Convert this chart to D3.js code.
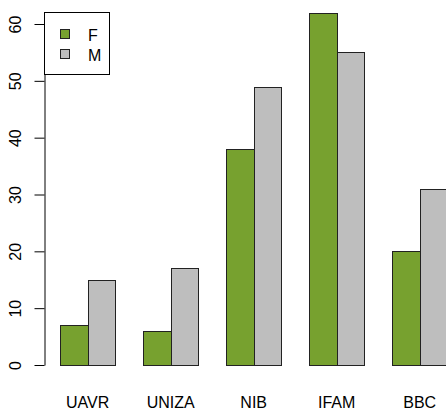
<!DOCTYPE html>
<html lang="en">
<head>
    <meta charset="UTF-8">
    <title>Barplot F / M</title>
    <script src="https://d3js.org/d3.v7.min.js"></script>
    <style>
        body { margin: 0; background: #fff; }
        text { font-family: "Liberation Sans", Arial, sans-serif; font-size: 16px; fill: #000; }
        .axis path, .axis line { stroke: #000; stroke-width: 1px; }
        .bar { stroke: #222; stroke-width: 1px; }
    </style>
</head>
<body>
    <svg width="446" height="410"></svg>
    <script>
        // data
        const categories = ["UAVR", "UNIZA", "NIB", "IFAM", "BBC"];
        const series = ["F", "M"];
        const valuesF = [7, 6, 38, 62, 20];
        const valuesM = [15, 17, 49, 55, 31];
        const yTicks = [0, 10, 20, 30, 40, 50, 60];
        const colors = ["#77a12f", "#bebebe"];

        const svg = d3.select("svg");

        // R barplot(beside=TRUE) user coords: group i, bar j at 1 + 3i + j, width 1
        const x = d3.scaleLinear()
            .domain([0.44, 15.56])
            .range([44.5, 462.9]);

        const y = d3.scaleLinear()
            .domain([0, 60])
            .range([365, 24]);

        const values = [valuesF, valuesM];
        const bars = [];
        categories.forEach((c, i) => {
            series.forEach((s, j) => {
                bars.push({ cat: c, ser: j, pos: 1 + 3 * i + j, v: values[j][i] });
            });
        });

        svg.append("g")
            .selectAll("rect")
            .data(bars)
            .enter().append("rect")
            .attr("class", "bar")
            .attr("x", d => Math.round(x(d.pos)) + 0.5)
            .attr("width", d => Math.round(x(d.pos + 1)) - Math.round(x(d.pos)))
            .attr("y", d => Math.round(y(d.v)) + 0.5)
            .attr("height", d => Math.round(y(0)) - Math.round(y(d.v)))
            .attr("fill", d => colors[d.ser]);

        // y axis
        const yAxis = svg.append("g")
            .attr("class", "axis")
            .attr("transform", "translate(44.5,0)")
            .call(d3.axisLeft(y).tickValues(yTicks).tickSize(10).tickSizeOuter(0).tickPadding(0));

        yAxis.selectAll(".tick text")
            .attr("transform", "rotate(-90)")
            .attr("x", 0)
            .attr("y", -24)
            .attr("dy", 0)
            .attr("text-anchor", "middle")
            .style("font-size", "16px");

        // category labels
        svg.append("g")
            .selectAll("text")
            .data(categories)
            .enter().append("text")
            .attr("x", (d, i) => x(2 + 3 * i))
            .attr("y", 408)
            .attr("text-anchor", "middle")
            .text(d => d);

        // legend
        const legend = svg.append("g");
        legend.append("rect")
            .attr("x", 44.5).attr("y", 12.5)
            .attr("width", 65).attr("height", 62)
            .attr("fill", "#fff").attr("stroke", "#000");

        const items = legend.selectAll(".item")
            .data(series)
            .enter().append("g")
            .attr("transform", (d, i) => `translate(0,${i * 20})`);

        items.append("rect")
            .attr("x", 60.5).attr("y", 29.5)
            .attr("width", 9).attr("height", 9)
            .attr("fill", (d, i) => colors[i])
            .attr("stroke", "#222");

        items.append("text")
            .attr("x", 88)
            .attr("y", 40.5)
            .text(d => d);
    </script>
</body>
</html>
